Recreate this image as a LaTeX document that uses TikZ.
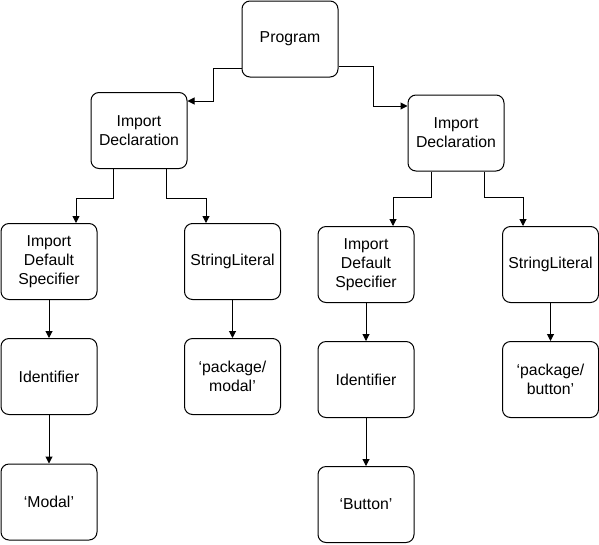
\documentclass[tikz,border=0pt]{standalone}
\usepackage{fontspec}
\setmainfont{Liberation Sans}
\usetikzlibrary{arrows.meta}
\begin{document}
\begin{tikzpicture}[x=1pt,y=-1pt,
  box/.style={draw,line width=1pt,rounded corners=8pt,minimum width=96pt,minimum height=76pt,
    inner sep=0pt,align=center,font=\fontsize{15.8}{19}\selectfont},
  conn/.style={line width=1pt,-{Triangle[length=7pt,width=7pt]}}]
\useasboundingbox (0,0) rectangle (599,544);
\node[box] (prog) at (290,39) {Program};
\node[box] (idl) at (139,130.5) {Import\\Declaration};
\node[box] (idr) at (456,133) {Import\\Declaration};
\node[box] (idsl) at (49,261.5) {Import\\Default\\Specifier};
\node[box] (sll) at (232.5,261.5) {StringLiteral};
\node[box] (idsr) at (366,264.5) {Import\\Default\\Specifier};
\node[box] (slr) at (550.5,264.5) {StringLiteral};
\node[box] (identl) at (49,376.5) {Identifier};
\node[box] (pml) at (232.5,376.5) {‘package/\\modal’};
\node[box] (modal) at (49,502) {‘Modal’};
\node[box] (identr) at (366,379.5) {Identifier};
\node[box] (pbr) at (550.5,379.5) {‘package/\\button’};
\node[box] (button) at (366,504.5) {‘Button’};
% connectors
\draw[conn] ([yshift=-29pt]prog.west) -- ++(-28,0) |- ([yshift=29.5pt]idl.east);
\draw[conn] ([yshift=-27pt]prog.east) -- ++(35,0) |- ([yshift=27pt]idr.west);
\draw[conn] ([xshift=-26pt]idl.south) -- ++(0,29) -| ([xshift=27pt]idsl.north);
\draw[conn] ([xshift=27pt]idl.south) -- ++(0,29) -| ([xshift=-26.5pt]sll.north);
\draw[conn] ([xshift=-25pt]idr.south) -- ++(0,26) -| ([xshift=27pt]idsr.north);
\draw[conn] ([xshift=28pt]idr.south) -- ++(0,26) -| ([xshift=-27.5pt]slr.north);
\draw[conn] (idsl.south) -- (identl.north);
\draw[conn] (identl.south) -- (modal.north);
\draw[conn] (sll.south) -- (pml.north);
\draw[conn] (idsr.south) -- (identr.north);
\draw[conn] (identr.south) -- (button.north);
\draw[conn] (slr.south) -- (pbr.north);
\end{tikzpicture}
\end{document}
